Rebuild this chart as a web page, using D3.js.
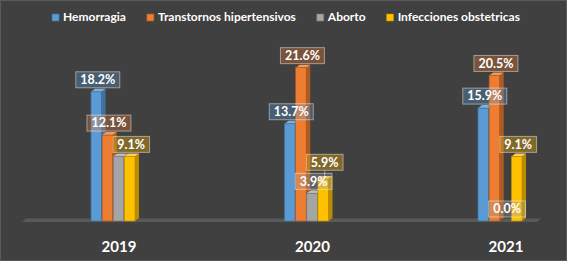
<!DOCTYPE html>
<html><head><meta charset="utf-8">
<script src="https://cdn.jsdelivr.net/npm/d3@7"></script>
<style>html,body{margin:0;padding:0;background:#404040;}svg{display:block;}</style>
</head><body>
<svg id="chart" width="567" height="261"></svg>
<script>
const years = ["2019", "2020", "2021"];
const series = ["Hemorragia", "Transtornos hipertensivos", "Aborto", "Infecciones obstetricas"];
const colors = ["#5b9bd5", "#ed7d31", "#a5a5a5", "#ffc000"];
const sideColors = ["#41719c", "#ae5a21", "#787878", "#bc8c00"];
const topColors = ["#7cb0e0", "#f29a5e", "#bdbdbd", "#ffd24d"];
const hemorragia = [18.2, 13.7, 15.9];
const hipertensivos = [12.1, 21.6, 20.5];
const aborto = [9.1, 3.9, 0.0];
const infecciones = [9.1, 5.9, 9.1];
const hiddenLabels = [["Aborto", "2019"]];

const values = [hemorragia, hipertensivos, aborto, infecciones];
const W = 567, H = 261;
const svg = d3.select("#chart");
const font = "Lato, 'Open Sans', sans-serif";

svg.append("rect").attr("x", 0.5).attr("y", 0.5).attr("width", W - 1).attr("height", H - 1)
  .attr("fill", "#404040").attr("stroke", "#5a5a5a");

const x = d3.scalePoint().domain(years).range([113, 500]);
const xi = d3.scaleBand().domain(series).range([-22, 22]).paddingInner(0.05);
const y = d3.scaleLinear().domain([0, 25]).range([221, 221 - 177.5]);
const dx = 4, dy = -3;
const bw = xi.bandwidth();

// floor
const base = y(0);
const fx0 = x(years[0]) - 91, fx1 = x(years[years.length - 1]) + 37;
svg.append("polygon")
  .attr("points", [[fx0, base + 1], [fx0 + 4, base - 2.5], [fx1 + 4, base - 2.5], [fx1, base + 1]].map(p => p.join(",")).join(" "))
  .attr("fill", "#595959");

// bars
const data = [];
series.forEach((s, si) => years.forEach((yr, yi) => data.push({ s, si, yr, v: values[si][yi] })));

years.forEach(yr => {
  const g = svg.append("g");
  series.forEach((s, si) => {
    const d = data.find(e => e.s === s && e.yr === yr);
    const x0 = x(yr) + xi(s), x1 = x0 + bw, t = y(d.v);
    if (d.v > 0) {
      g.append("polygon")
        .attr("points", [[x1, t], [x1 + dx, t + dy], [x1 + dx, base + dy], [x1, base]].map(p => p.join(",")).join(" "))
        .attr("fill", sideColors[si]);
      g.append("polygon")
        .attr("points", [[x0, t], [x0 + dx, t + dy], [x1 + dx, t + dy], [x1, t]].map(p => p.join(",")).join(" "))
        .attr("fill", topColors[si]);
      g.append("rect").attr("x", x0).attr("y", t).attr("width", bw).attr("height", base - t)
        .attr("fill", colors[si]).attr("stroke", sideColors[si]).attr("stroke-width", 0.7);
    }
  });
});

// labels
const lab = svg.append("g");
years.forEach(yr => {
  const boxes = [];
  series.forEach((s, si) => {
    if (hiddenLabels.some(h => h[0] === s && h[1] === yr)) return;
    const d = data.find(e => e.s === s && e.yr === yr);
    const cx = x(yr) + xi(s) + bw / 2 + 1.5;
    const txt = d3.format(".1f")(d.v) + "%";
    const t = lab.append("text").text(txt).attr("font-family", font).attr("font-weight", "bold")
      .attr("font-size", 12.5).attr("fill", "#fff").attr("text-anchor", "middle");
    const tw = t.node().getComputedTextLength();
    const w = tw + 9, h = 16;
    let bottom = y(d.v) - 4;
    const natural = bottom;
    let moved = true;
    while (moved) {
      moved = false;
      for (const b of boxes) {
        const hov = cx - w / 2 < b.x1 && cx + w / 2 > b.x0;
        const vov = bottom - h < b.y1 + 3 && bottom + 3 > b.y0;
        if (hov && vov) { bottom = b.y0 - 3; moved = true; }
      }
    }
    const box = { x0: cx - w / 2, x1: cx + w / 2, y0: bottom - h, y1: bottom };
    boxes.push(box);
    if (bottom < natural - 1) {
      lab.insert("line", "text").attr("x1", cx).attr("x2", cx).attr("y1", bottom).attr("y2", natural + 4)
        .attr("stroke", "rgba(255,255,255,0.45)").attr("stroke-width", 1);
    }
    lab.insert("rect", "text").attr("x", box.x0).attr("y", box.y0).attr("width", w).attr("height", h)
      .attr("fill", colors[si]).attr("fill-opacity", 0.33)
      .attr("stroke", "rgba(255,255,255,0.45)").attr("stroke-width", 1);
    // keep the rect beneath its text: re-append text
    t.raise();
    t.attr("x", cx).attr("y", bottom - 3.8);
  });
});

// x axis labels
svg.append("g").selectAll("text").data(years).join("text")
  .attr("x", d => x(d) + 6).attr("y", 252)
  .attr("text-anchor", "middle").attr("font-family", font).attr("font-weight", "bold")
  .attr("font-size", 15).attr("fill", "#fff").text(d => d);

// legend
const leg = svg.append("g");
let lx = 0;
const items = [];
series.forEach((s, si) => {
  const gi = leg.append("g");
  gi.append("rect").attr("x", 0).attr("y", -7).attr("width", 7).attr("height", 7)
    .attr("fill", colors[si]).attr("stroke", sideColors[si]).attr("stroke-width", 0.6);
  const t = gi.append("text").attr("x", 11).attr("y", 0).attr("font-family", font)
    .attr("font-weight", "bold").attr("font-size", 12).attr("fill", "#fff").text(s);
  const w = 11 + t.node().getComputedTextLength();
  gi.attr("transform", `translate(${lx},21)`);
  lx += w + 21;
});
const total = lx - 21;
leg.attr("transform", `translate(${286 - total / 2},0)`);
</script>
</body></html>
